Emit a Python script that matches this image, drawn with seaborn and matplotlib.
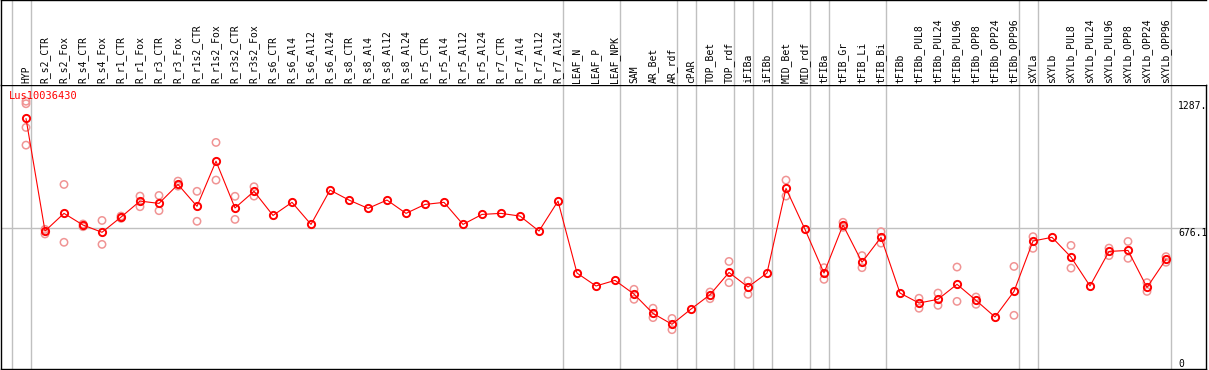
import matplotlib
matplotlib.use("Agg")
import matplotlib.pyplot as plt
import matplotlib.transforms as mtransforms
import pandas as pd
import seaborn as sns

sns.set_style("white")
plt.rcParams['font.family'] = ['DejaVu Sans Mono']

gene = "Lus10036430"

categories = [
    "HYP", "R_s2_CTR", "R_s2_Fox", "R_s4_CTR", "R_s4_Fox", "R_r1_CTR", "R_r1_Fox",
    "R_r3_CTR", "R_r3_Fox", "R_r1s2_CTR", "R_r1s2_Fox", "R_r3s2_CTR", "R_r3s2_Fox",
    "R_s6_CTR", "R_s6_Al4", "R_s6_Al12", "R_s6_Al24", "R_s8_CTR", "R_s8_Al4",
    "R_s8_Al12", "R_s8_Al24", "R_r5_CTR", "R_r5_Al4", "R_r5_Al12", "R_r5_Al24",
    "R_r7_CTR", "R_r7_Al4", "R_r7_Al12", "R_r7_Al24", "LEAF_N", "LEAF_P", "LEAF_NPK",
    "SAM", "AR_Bet", "AR_rdf", "cPAR", "TOP_Bet", "TOP_rdf", "iFIBa", "iFIBb",
    "MID_Bet", "MID_rdf", "tFIBa", "tFIB_Gr", "tFIB_Li", "tFIB_Bi", "tFIBb",
    "tFIBb_PUL8", "tFIBb_PUL24", "tFIBb_PUL96", "tFIBb_OPP8", "tFIBb_OPP24",
    "tFIBb_OPP96", "sXYLa", "sXYLb", "sXYLb_PUL8", "sXYLb_PUL24", "sXYLb_PUL96",
    "sXYLb_OPP8", "sXYLb_OPP24", "sXYLb_OPP96",
]

mean_vals = [
    1204, 663, 748, 692, 657, 730, 807, 796, 887, 782, 999, 774, 854,
    738, 801, 695, 860, 812, 772, 812, 748, 791, 801, 695, 743, 748, 735, 663, 807,
    461, 399, 426, 360, 267, 215, 288, 357, 464, 394, 461, 868, 671, 461, 692, 513,
    633, 365, 317, 335, 407, 330, 250, 373, 615, 633, 538, 399, 565, 570, 392, 527,
]

# replicate values that can be told apart from the mean marker
rep_vals = [
    [1287, 1275, 1161, 1076], [671, 649], [887, 609], [697, 684], [714, 599],
    [735, 724], [831, 780], [834, 761], [903, 879], [854, 710], [1089, 908],
    [830, 719], [876, 831],
    [], [], [], [], [], [], [], [], [], [], [], [], [], [], [], [], [], [], [],
    [383, 335], [292, 247], [243, 189], [], [370, 338], [517, 415], [423, 359], [],
    [908, 831], [], [487, 431], [705, 681], [545, 487], [660, 605], [],
    [340, 292], [365, 306], [490, 325], [346, 311], [], [493, 258],
    [636, 580], [], [594, 485], [], [581, 545], [613, 532], [415, 373], [540, 513],
]

# last sample of each tissue group (-1 = left edge)
group_ends = [-1, 0, 28, 31, 34, 35, 37, 38, 39, 41, 42, 45, 52, 53, 60]

ytick_vals = [1287, 676.1, 0]
ytick_labels = ["1287.", "676.1", "0"]

mean_df = pd.DataFrame({"pos": range(len(categories)), "value": mean_vals})
rep_df = pd.DataFrame(
    [(i, v) for i, reps in enumerate(rep_vals) for v in reps],
    columns=["pos", "value"],
)

W, H = 1209, 370
fig = plt.figure(figsize=(W / 100, H / 100), dpi=100)
ax = fig.add_axes([1 / W, 1 / H, 1205 / W, 284 / H])
axh = fig.add_axes([1 / W, 285 / H, 1205 / W, 85 / H])

xmin = -25 / 19
xmax = xmin + 1205 / 19
for a in (ax, axh):
    a.set_xlim(xmin, xmax)
    a.set_xticks([])
    a.set_yticks([])
    for g in group_ends:
        a.axvline(g + 0.26, color="#c0c0c0", lw=1, zorder=0)
ax.set_ylim(0, 1365)
axh.set_ylim(0, 1)

ax.axhline(ytick_vals[1], color="#c0c0c0", lw=1, zorder=0)

sns.scatterplot(data=rep_df, x="pos", y="value", ax=ax, marker="o", s=28,
                color="#f09494", facecolors="none", edgecolor="#f09494",
                linewidth=1.1, zorder=2, legend=False)
sns.lineplot(data=mean_df, x="pos", y="value", ax=ax, color="red", lw=0.8,
             marker="o", markersize=5.2, markerfacecolor="none",
             markeredgecolor="red", markeredgewidth=1.4, zorder=3)
ax.set_xlabel("")
ax.set_ylabel("")

for s in ax.spines.values():
    s.set_color("black")
    s.set_linewidth(1)
axh.spines["right"].set_visible(False)
axh.spines["bottom"].set_visible(False)
for s in ("top", "left"):
    axh.spines[s].set_color("black")
    axh.spines[s].set_linewidth(1)

trans = axh.get_xaxis_transform()
for i, cat in enumerate(categories):
    axh.text(i, 0.025, cat, rotation=90, ha="center", va="bottom",
             fontsize=7, color="black", transform=trans)

ytrans = mtransforms.blended_transform_factory(ax.transAxes, ax.transData)
for v, lab in zip(ytick_vals, ytick_labels):
    ax.text(0.9768, v, lab, ha="left", va="bottom" if v == 0 else "top",
            fontsize=7, color="black", transform=ytrans)

fig.text(9 / W, 1 - 91 / H, gene, color="red", fontsize=7.5,
         ha="left", va="top", zorder=5)

fig.savefig("out.png", dpi=100)
